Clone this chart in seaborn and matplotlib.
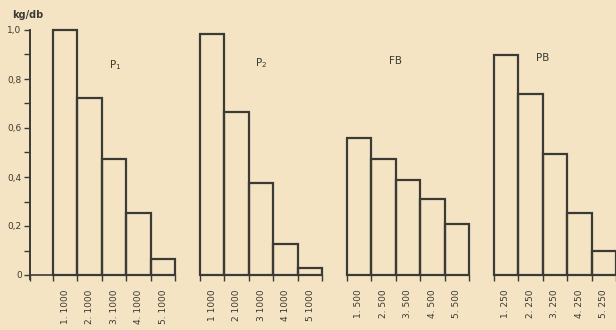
import matplotlib
matplotlib.use("Agg")
import matplotlib.pyplot as plt
import seaborn as sns
import pandas as pd
import numpy as np

# ---- data ----
panels = ["P$_1$", "P$_2$", "FB", "PB"]
p1_values = [1.00, 0.724, 0.473, 0.254, 0.064]
p2_values = [0.984, 0.667, 0.374, 0.125, 0.027]
fb_values = [0.558, 0.472, 0.388, 0.310, 0.208]
pb_values = [0.898, 0.739, 0.494, 0.254, 0.097]
p1_labels = ["1. 1000", "2. 1000", "3. 1000", "4. 1000", "5. 1000"]
p2_labels = ["1 1000", "2 1000", "3 1000", "4 1000", "5 1000"]
fb_labels = ["1. 500", "2. 500", "3. 500", "4. 500", "5. 500"]
pb_labels = ["1. 250", "2. 250", "3. 250", "4. 250", "5. 250"]
y_ticks = [0, 0.2, 0.4, 0.6, 0.8, 1.0]
y_ticklabels = ["0", "0,2", "0,4", "0,6", "0,8", "1,0"]

all_values = [p1_values, p2_values, fb_values, pb_values]
all_labels = [p1_labels, p2_labels, fb_labels, pb_labels]

rows = []
for p, (vals, labs) in enumerate(zip(all_values, all_labels)):
    for i, (v, l) in enumerate(zip(vals, labs)):
        rows.append({"panel": p, "pos": p * 6 + i + 0.5, "value": v, "label": l})
df = pd.DataFrame(rows)

paper = "#f4e4c3"
ink = "#3b3a35"

sns.set_theme(style="white")
plt.rcParams['font.family'] = ['DejaVu Sans']

fig = plt.figure(figsize=(6.16, 3.30), dpi=100, facecolor=paper)
ax = fig.add_axes([30 / 616, 1 - 275 / 330, 586 / 616, 245 / 330])
ax.set_facecolor(paper)

sns.barplot(data=df, x="pos", y="value", native_scale=True, width=1.0,
            fill=False, color=ink, linewidth=1.6, errorbar=None, ax=ax)
for patch in ax.patches:
    patch.set_edgecolor(ink)
    patch.set_clip_on(False)

xmin = -0.94
ax.set_xlim(xmin, 23.0)
ax.set_ylim(0, 1.0)

# baselines per panel
for p in range(4):
    left = xmin if p == 0 else p * 6
    ax.plot([left, p * 6 + 5], [0, 0], color=ink, lw=1.2, clip_on=False)

for s in ["top", "right", "bottom"]:
    ax.spines[s].set_visible(False)
ax.spines["left"].set_color(ink)
ax.spines["left"].set_linewidth(1.4)
ax.spines["left"].set_bounds(-0.015, 1.0)

ax.set_yticks(y_ticks)
ax.set_yticklabels(y_ticklabels, fontsize=6.5, color=ink)
ax.set_yticks(np.arange(0.1, 1.0, 0.2), minor=True)
ax.tick_params(axis="y", which="both", direction="out", length=4, width=1.0,
               color=ink, left=True, pad=2)

centers = df["pos"].tolist()
ax.set_xticks(centers)
ax.set_xticklabels(df["label"].tolist(), rotation=90, fontsize=6.5, color=ink)
edges = [p * 6 + i for p in range(4) for i in range(6)] + [xmin]
ax.set_xticks(edges, minor=True)
ax.tick_params(axis="x", which="major", length=0, pad=10.5, bottom=True)
ax.tick_params(axis="x", which="minor", direction="out", length=4, width=1.0,
               color=ink, bottom=True)
ax.set_xlabel("")
ax.set_ylabel("")

# panel titles
title_pos = [(2.55, 0.855), (8.5, 0.865), (14.0, 0.875), (20.0, 0.885)]
for name, (tx, ty) in zip(panels, title_pos):
    ax.text(tx, ty, name, fontsize=7.5, color=ink, ha="center", va="center")

fig.text(12 / 616, 1 - 15 / 330, "kg/db", fontsize=7, fontweight="bold",
         color=ink, ha="left", va="center")

fig.savefig("out.png", dpi=100, facecolor=paper)
